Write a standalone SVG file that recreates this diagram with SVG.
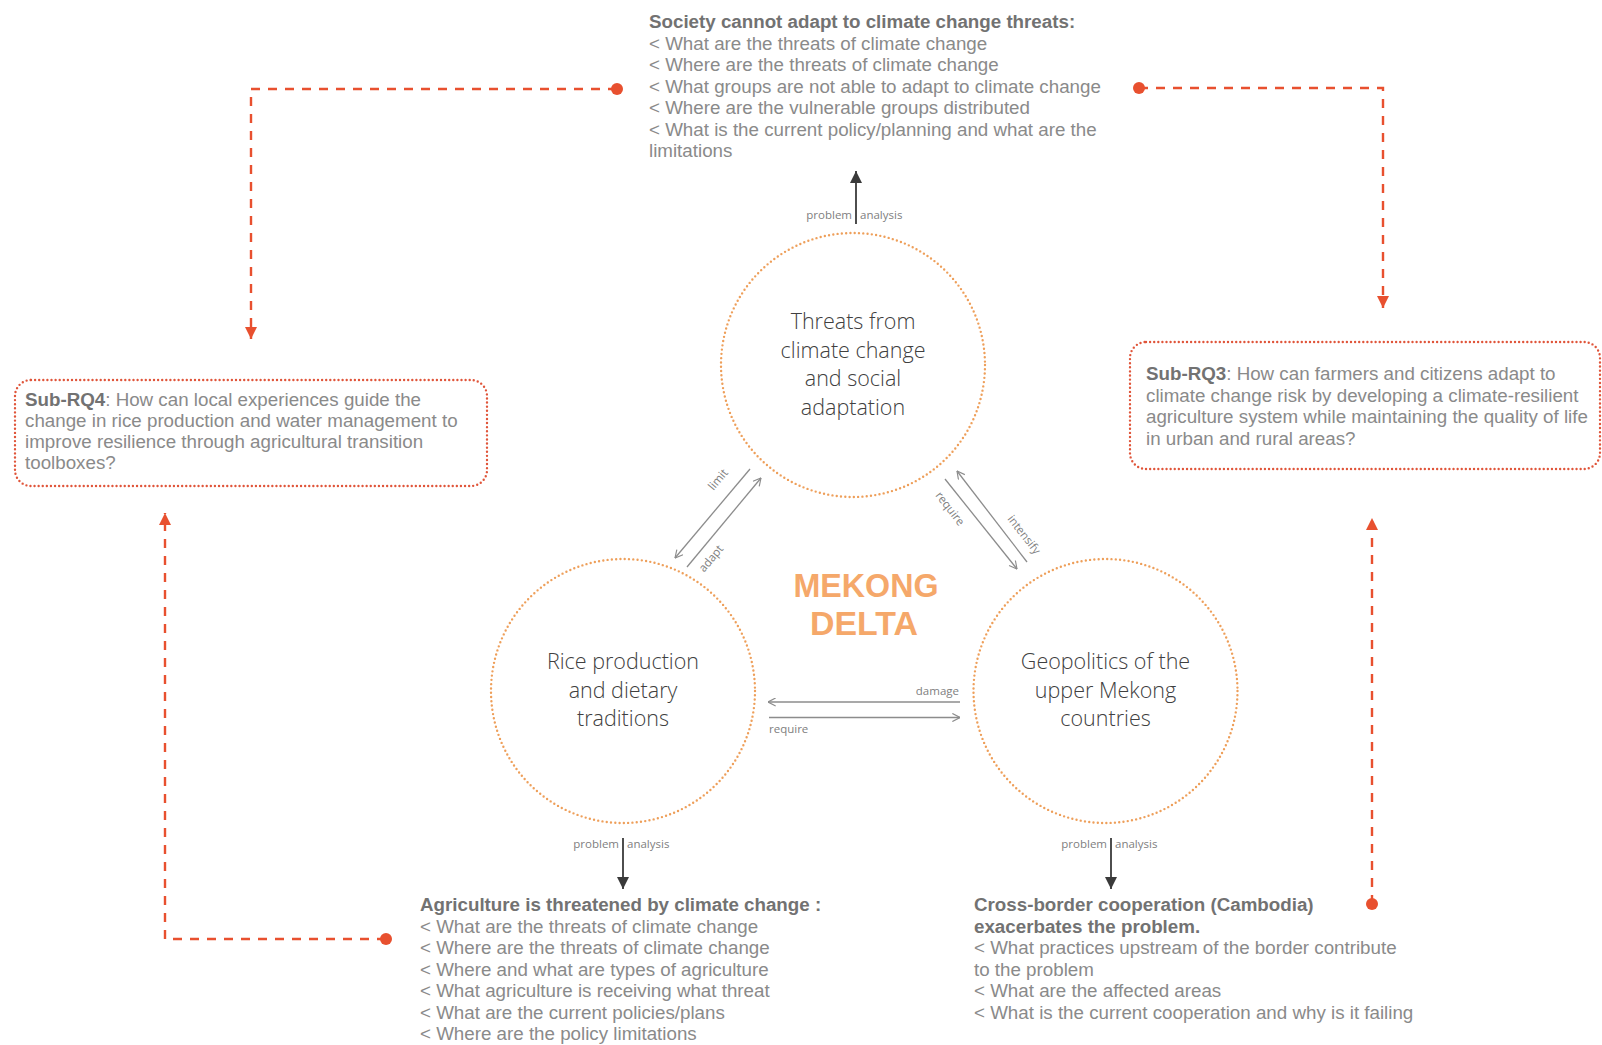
<svg xmlns="http://www.w3.org/2000/svg" width="1602" height="1045" viewBox="0 0 1602 1045">
  <style>
    .q { font-family: "Liberation Sans", Arial, sans-serif; font-size: 18.75px; fill: #8a8a8a; }
    .qb { font-family: "Liberation Sans", Arial, sans-serif; font-size: 18.75px; font-weight: bold; fill: #727272; }
    .ct { font-family: "Open Sans", "DejaVu Sans", sans-serif; font-size: 21.5px; font-weight: 300; fill: #404040; text-anchor: middle; }
    .lbl { font-family: "Open Sans", "DejaVu Sans", sans-serif; font-size: 11.5px; fill: #808080; }
    .circ { fill: none; stroke: #EE9F5A; stroke-width: 2.4; stroke-dasharray: 0 4.3; stroke-linecap: round; }
    .box { fill: none; stroke: #E0553A; stroke-width: 2.4; stroke-dasharray: 0 4.1; stroke-linecap: round; }
    .red { fill: none; stroke: #E8502F; stroke-width: 2.4; stroke-dasharray: 9 8; }
    .gray { fill: none; stroke: #8c8c8c; stroke-width: 1.3; }
    .blk { fill: none; stroke: #3a3a3a; stroke-width: 1.8; }
    .title { font-family: "Liberation Sans", Arial, sans-serif; font-weight: bold; font-size: 34px; fill: #F5A86A; text-anchor: middle; }
  </style>
  <defs>
    <marker id="redArrow" viewBox="0 0 10 10" refX="10" refY="5" markerWidth="12" markerHeight="12" markerUnits="userSpaceOnUse" orient="auto">
      <path d="M0,0 L10,5 L0,10 z" fill="#E8502F"/>
    </marker>
    <marker id="redDot" viewBox="0 0 12 12" refX="6" refY="6" markerWidth="12" markerHeight="12" markerUnits="userSpaceOnUse" orient="auto">
      <circle cx="6" cy="6" r="6" fill="#E8502F"/>
    </marker>
    <marker id="grayOpen" viewBox="0 0 10 10" refX="9.5" refY="5" markerWidth="9" markerHeight="9" markerUnits="userSpaceOnUse" orient="auto">
      <path d="M1,0.5 L9.5,5 L1,9.5" fill="none" stroke="#8c8c8c" stroke-width="1.3"/>
    </marker>
    <marker id="blkArrow" viewBox="0 0 10 10" refX="10" refY="5" markerWidth="12" markerHeight="12" markerUnits="userSpaceOnUse" orient="auto">
      <path d="M0,0 L10,5 L0,10 z" fill="#3a3a3a"/>
    </marker>
  </defs>
  <rect width="1602" height="1045" fill="#ffffff"/>

  <g id="connectors">
    <!-- red dashed feedback arrows -->
    <path class="red" d="M617,89 L251,89 L251,339" marker-start="url(#redDot)" marker-end="url(#redArrow)"/>
    <path class="red" d="M1139,88 L1383,88 L1383,308" marker-start="url(#redDot)" marker-end="url(#redArrow)"/>
    <path class="red" d="M386,939 L165,939 L165,513" marker-start="url(#redDot)" marker-end="url(#redArrow)"/>
    <path class="red" d="M1372,904 L1372,518" marker-start="url(#redDot)" marker-end="url(#redArrow)"/>

    <!-- problem / analysis arrows -->
    <line class="blk" x1="856" y1="224" x2="856" y2="171" marker-end="url(#blkArrow)"/>
    <text class="lbl" x="852" y="218.5" text-anchor="end">problem</text>
    <text class="lbl" x="860" y="218.5">analysis</text>

    <line class="blk" x1="623" y1="838" x2="623" y2="889" marker-end="url(#blkArrow)"/>
    <text class="lbl" x="619" y="848" text-anchor="end">problem</text>
    <text class="lbl" x="627" y="848">analysis</text>

    <line class="blk" x1="1111" y1="838" x2="1111" y2="889" marker-end="url(#blkArrow)"/>
    <text class="lbl" x="1107" y="848" text-anchor="end">problem</text>
    <text class="lbl" x="1115" y="848">analysis</text>

    <!-- between circles -->
    <line class="gray" x1="750" y1="469" x2="675" y2="558" marker-end="url(#grayOpen)"/>
    <line class="gray" x1="687" y1="567" x2="761" y2="478" marker-end="url(#grayOpen)"/>
    <text class="lbl" x="0" y="0" text-anchor="middle" transform="translate(721,482) rotate(-50)">limit</text>
    <text class="lbl" x="0" y="0" text-anchor="middle" transform="translate(714,561) rotate(-50)">adapt</text>

    <line class="gray" x1="945" y1="479" x2="1017" y2="569" marker-end="url(#grayOpen)"/>
    <line class="gray" x1="1027" y1="562" x2="957" y2="471" marker-end="url(#grayOpen)"/>
    <text class="lbl" x="0" y="0" text-anchor="middle" transform="translate(947,511) rotate(52)">require</text>
    <text class="lbl" x="0" y="0" text-anchor="middle" transform="translate(1021,537) rotate(52)">intensify</text>

    <line class="gray" x1="960" y1="702" x2="768" y2="702" marker-end="url(#grayOpen)"/>
    <line class="gray" x1="769" y1="717.5" x2="960" y2="717.5" marker-end="url(#grayOpen)"/>
    <text class="lbl" x="959" y="695" text-anchor="end">damage</text>
    <text class="lbl" x="769" y="733">require</text>
  </g>

  <g id="node-threats">
    <circle class="circ" cx="853" cy="365" r="132"/>
    <text class="ct" x="853" y="329">Threats from</text>
    <text class="ct" x="853" y="357.5">climate change</text>
    <text class="ct" x="853" y="386">and social</text>
    <text class="ct" x="853" y="414.5">adaptation</text>
  </g>

  <g id="node-rice">
    <circle class="circ" cx="623" cy="691" r="132"/>
    <text class="ct" x="623" y="669">Rice production</text>
    <text class="ct" x="623" y="697.5">and dietary</text>
    <text class="ct" x="623" y="726">traditions</text>
  </g>

  <g id="node-geopolitics">
    <circle class="circ" cx="1105.5" cy="691" r="132"/>
    <text class="ct" x="1105.5" y="669">Geopolitics of the</text>
    <text class="ct" x="1105.5" y="697.5">upper Mekong</text>
    <text class="ct" x="1105.5" y="726">countries</text>
  </g>

  <g id="node-mekong">
    <text class="title" x="866" y="597" textLength="145" lengthAdjust="spacingAndGlyphs">MEKONG</text>
    <text class="title" x="864" y="635" textLength="108" lengthAdjust="spacingAndGlyphs">DELTA</text>
  </g>

  <g id="node-society">
    <text class="qb" x="649" y="28">Society cannot adapt to climate change threats:</text>
    <text class="q" x="649" y="49.5">&lt; What are the threats of climate change</text>
    <text class="q" x="649" y="71">&lt; Where are the threats of climate change</text>
    <text class="q" x="649" y="92.5">&lt; What groups are not able to adapt to climate change</text>
    <text class="q" x="649" y="114">&lt; Where are the vulnerable groups distributed</text>
    <text class="q" x="649" y="135.5">&lt; What is the current policy/planning and what are the</text>
    <text class="q" x="649" y="157">limitations</text>
  </g>

  <g id="node-subrq4">
    <rect class="box" x="15" y="380" width="472" height="106" rx="16" ry="16"/>
    <text class="q" x="25" y="406"><tspan class="qb">Sub-RQ4</tspan>: How can local experiences guide the</text>
    <text class="q" x="25" y="427">change in rice production and water management to</text>
    <text class="q" x="25" y="448">improve resilience through agricultural transition</text>
    <text class="q" x="25" y="469">toolboxes?</text>
  </g>

  <g id="node-subrq3">
    <rect class="box" x="1130" y="342" width="470" height="127" rx="16" ry="16"/>
    <text class="q" x="1146" y="380"><tspan class="qb">Sub-RQ3</tspan>: How can farmers and citizens adapt to</text>
    <text class="q" x="1146" y="401.5">climate change risk by developing a climate-resilient</text>
    <text class="q" x="1146" y="423">agriculture system while maintaining the quality of life</text>
    <text class="q" x="1146" y="444.5">in urban and rural areas?</text>
  </g>

  <g id="node-agriculture">
    <text class="qb" x="420" y="911">Agriculture is threatened by climate change :</text>
    <text class="q" x="420" y="932.5">&lt; What are the threats of climate change</text>
    <text class="q" x="420" y="954">&lt; Where are the threats of climate change</text>
    <text class="q" x="420" y="975.5">&lt; Where and what are types of agriculture</text>
    <text class="q" x="420" y="997">&lt; What agriculture is receiving what threat</text>
    <text class="q" x="420" y="1018.5">&lt; What are the current policies/plans</text>
    <text class="q" x="420" y="1040">&lt; Where are the policy limitations</text>
  </g>

  <g id="node-crossborder">
    <text class="qb" x="974" y="911">Cross-border cooperation (Cambodia)</text>
    <text class="qb" x="974" y="932.5">exacerbates the problem.</text>
    <text class="q" x="974" y="954">&lt; What practices upstream of the border contribute</text>
    <text class="q" x="974" y="975.5">to the problem</text>
    <text class="q" x="974" y="997">&lt; What are the affected areas</text>
    <text class="q" x="974" y="1018.5">&lt; What is the current cooperation and why is it failing</text>
  </g>
</svg>
